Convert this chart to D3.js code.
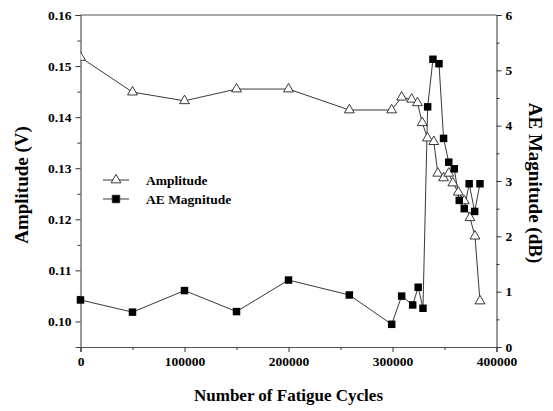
<!DOCTYPE html>
<html><head><meta charset="utf-8">
<script src="https://cdn.jsdelivr.net/npm/d3@7"></script>
<style>
html,body{margin:0;padding:0;background:#fff;}
svg{display:block;}
text{font-family:"Liberation Serif","Times New Roman",serif !important;font-weight:bold;fill:#000;}
</style></head>
<body>
<script>
// Data
const ampCycles = [0, 50000, 100000, 150000, 200000, 258500, 299200, 308800, 318400, 324000, 328600, 333600, 339700, 343600, 349100, 354100, 358000, 363300, 369000, 374500, 379300, 384100];
const ampValues = [0.1517, 0.1449, 0.1432, 0.1455, 0.1455, 0.1414, 0.1414, 0.1439, 0.1435, 0.1428, 0.1389, 0.1359, 0.1352, 0.1290, 0.1281, 0.1290, 0.1271, 0.1253, 0.1236, 0.1203, 0.1167, 0.1040];
const aeCycles = [0, 50000, 100000, 150000, 200000, 258500, 299200, 308800, 319400, 324700, 329300, 333800, 338900, 344700, 349100, 354100, 359400, 364200, 369000, 373700, 379000, 384100];
const aeValues = [0.85, 0.63, 1.02, 0.64, 1.21, 0.94, 0.41, 0.92, 0.76, 1.08, 0.70, 4.34, 5.2, 5.12, 3.77, 3.34, 3.22, 2.65, 2.50, 2.95, 2.45, 2.95];
const xTicks = [0, 100000, 200000, 300000, 400000];
const xMinor = [50000, 150000, 250000, 350000];
const leftTicks = [0.10, 0.11, 0.12, 0.13, 0.14, 0.15, 0.16];
const leftMinor = [0.095, 0.105, 0.115, 0.125, 0.135, 0.145, 0.155];
const rightTicks = [0, 1, 2, 3, 4, 5, 6];
const rightMinor = [0.5, 1.5, 2.5, 3.5, 4.5, 5.5];
const seriesNames = ["Amplitude", "AE Magnitude"];

const W = 553, H = 411;
const m = {left: 80.5, right: 496.5, top: 15, bottom: 347};
const svg = d3.select("body").append("svg").attr("width", W).attr("height", H);

const x = d3.scaleLinear().domain([0, 400000]).range([m.left, m.right]);
const yL = d3.scaleLinear().domain([0.095, 0.16]).range([m.bottom, m.top]);
const yR = d3.scaleLinear().domain([0, 6]).range([m.bottom, m.top]);

svg.append("defs").append("clipPath").attr("id", "clip")
  .append("rect").attr("x", m.left).attr("y", m.top - 10).attr("width", m.right - m.left).attr("height", m.bottom - m.top + 20);

const axisColor = "#555";
const serif = "Liberation Serif, Times New Roman, serif";
// X axis
svg.append("g").attr("transform", `translate(0,${m.bottom})`)
  .call(d3.axisBottom(x).tickValues(xTicks).tickFormat(d3.format("d")).tickSize(5).tickPadding(4));
svg.append("g").attr("transform", `translate(0,${m.bottom})`)
  .call(d3.axisBottom(x).tickValues(xMinor).tickFormat("").tickSize(3)).select(".domain").remove();
// Left axis
svg.append("g").attr("transform", `translate(${m.left},0)`)
  .call(d3.axisLeft(yL).tickValues(leftTicks).tickFormat(d3.format(".2f")).tickSize(5).tickPadding(4));
svg.append("g").attr("transform", `translate(${m.left},0)`)
  .call(d3.axisLeft(yL).tickValues(leftMinor).tickFormat("").tickSize(3)).select(".domain").remove();
// Right axis
svg.append("g").attr("transform", `translate(${m.right},0)`)
  .call(d3.axisRight(yR).tickValues(rightTicks).tickFormat(d3.format("d")).tickSize(5).tickPadding(4));
svg.append("g").attr("transform", `translate(${m.right},0)`)
  .call(d3.axisRight(yR).tickValues(rightMinor).tickFormat("").tickSize(3)).select(".domain").remove();
// top border
svg.append("line").attr("x1", m.left).attr("x2", m.right).attr("y1", m.top).attr("y2", m.top)
  .attr("stroke", axisColor).attr("stroke-width", 1.2);

svg.selectAll("g").attr("font-family", serif);
svg.selectAll(".domain").attr("stroke", axisColor).attr("stroke-width", 1.2);
svg.selectAll(".tick line").attr("stroke", "#333");
svg.selectAll(".tick text").attr("font-family", serif).attr("font-size", 13.5).attr("font-weight", "bold");

// Lines
const plot = svg.append("g");
const lineA = d3.line().x((d, i) => x(ampCycles[i])).y(d => yL(d));
const lineE = d3.line().x((d, i) => x(aeCycles[i])).y(d => yR(d));
plot.append("path").datum(ampValues).attr("d", lineA).attr("fill", "none").attr("stroke", "#222").attr("stroke-width", 0.9);
plot.append("path").datum(aeValues).attr("d", lineE).attr("fill", "none").attr("stroke", "#222").attr("stroke-width", 0.9);

const tri = d3.symbol().type(d3.symbolTriangle).size(42);
const sq = d3.symbol().type(d3.symbolSquare).size(56);
plot.append("g").attr("clip-path", "url(#clip)").selectAll("path").data(ampValues).join("path")
  .attr("d", tri).attr("transform", (d, i) => `translate(${x(ampCycles[i])},${yL(d)})`)
  .attr("fill", "#fff").attr("stroke", "#222").attr("stroke-width", 0.9);
plot.append("g").selectAll("path").data(aeValues).join("path")
  .attr("d", sq).attr("transform", (d, i) => `translate(${x(aeCycles[i])},${yR(d)})`)
  .attr("fill", "#000");

// Legend
const lg = svg.append("g");
const legRows = [{y: 180, sym: tri, fill: "#fff"}, {y: 199, sym: sq, fill: "#000"}];
legRows.forEach((r, i) => {
  lg.append("line").attr("x1", 103).attr("x2", 129).attr("y1", r.y).attr("y2", r.y).attr("stroke", "#222").attr("stroke-width", 0.9);
  lg.append("path").attr("d", r.sym).attr("transform", `translate(116,${r.y})`).attr("fill", r.fill).attr("stroke", "#222").attr("stroke-width", 0.9);
  lg.append("text").attr("x", 146).attr("y", r.y + 4.5).style("font-size", "13.5px").text(seriesNames[i]);
});

// Titles
svg.append("text").attr("x", (m.left + m.right) / 2).attr("y", 401).attr("text-anchor", "middle")
  .style("font-size", "17px").text("Number of Fatigue Cycles");
svg.append("text").attr("transform", `translate(28,${(m.top + m.bottom) / 2 + 4}) rotate(-90)`).attr("text-anchor", "middle")
  .style("font-size", "19px").text("Amplitude (V)");
svg.append("text").attr("transform", `translate(529,${(m.top + m.bottom) / 2 + 2}) rotate(90)`).attr("text-anchor", "middle")
  .style("font-size", "19px").text("AE Magnitude (dB)");
</script>
</body></html>
